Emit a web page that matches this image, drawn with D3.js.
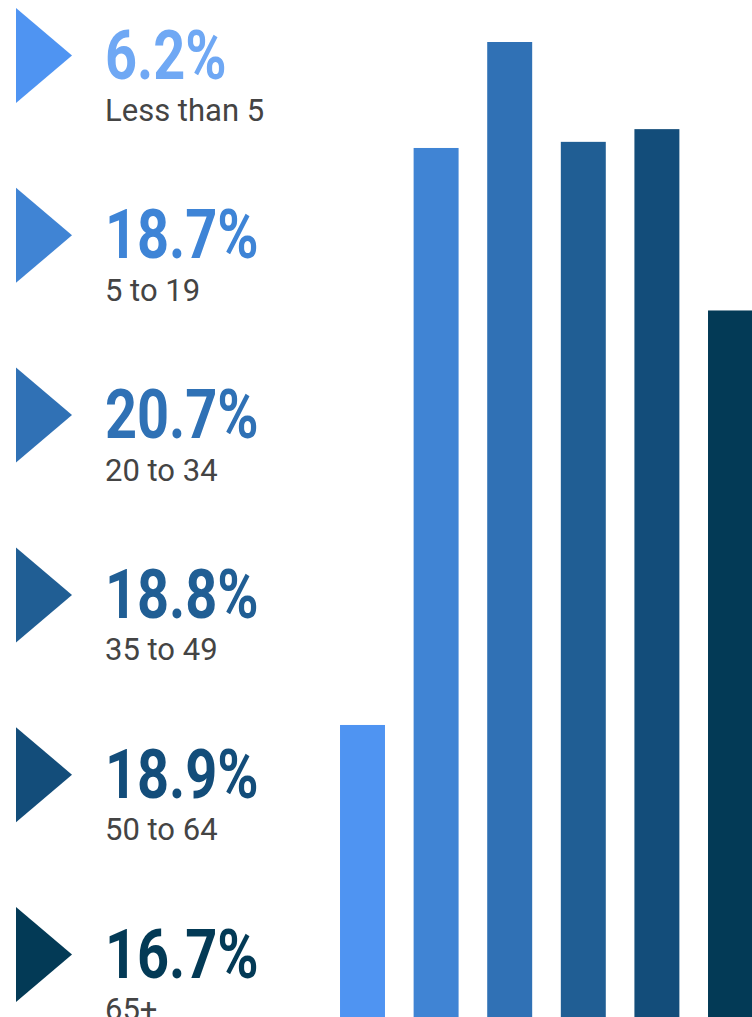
<!DOCTYPE html>
<html>
<head>
<meta charset="utf-8">
<script src="https://cdn.jsdelivr.net/npm/d3@7"></script>
<style>
    html, body { margin: 0; padding: 0; background: #fff; }
    svg { display: block; }
    .pct { font-family: Roboto, "Noto Sans", sans-serif; font-weight: 700; }
    .age { font-family: Roboto, "Noto Sans", sans-serif; font-weight: 400; fill: #444; }
</style>
</head>
<body>
<div id="chart"></div>
<script>
// age groups and their shares (labels on the left)
const ageGroups = ["Less than 5", "5 to 19", "20 to 34", "35 to 49", "50 to 64", "65+"];
const shareLabels = ["6.2%", "18.7%", "20.7%", "18.8%", "18.9%", "16.7%"];
// bar heights
const barValues = [6.2, 18.45, 20.7, 18.58, 18.85, 15.0];
// palette, light to dark
const markColors = ["#4f94f2", "#4084d4", "#3071b5", "#205e94", "#134d7a", "#033a56"];
const textColors = ["#6fa8f4", "#3e84d6", "#2f71b5", "#205e94", "#134d7a", "#033a56"];

const width = 752;
const height = 1017;

const svg = d3.select("#chart")
    .append("svg")
    .attr("width", width)
    .attr("height", height);

// Left side: one row per age group
const rowScale = d3.scalePoint()
    .domain(ageGroups)
    .range([55.5, 954.5]);

const rows = svg.append("g")
    .selectAll("g")
    .data(ageGroups)
    .join("g")
    .attr("transform", d => `translate(0, ${rowScale(d)})`);

rows.append("path")
    .attr("d", "M16,-47.5L72,0L16,47.5Z")
    .attr("fill", (d, i) => markColors[i]);

rows.append("text")
    .attr("class", "pct")
    .attr("transform", "translate(105, 23) scale(0.81, 1)")
    .attr("font-size", 69)
    .attr("fill", (d, i) => textColors[i])
    .text((d, i) => shareLabels[i]);

rows.append("text")
    .attr("class", "age")
    .attr("x", 105)
    .attr("y", 65.5)
    .attr("font-size", 31)
    .text(d => d);

// Right side: bars
const xScale = d3.scaleBand()
    .domain(ageGroups)
    .range([325.7, 767.3])
    .paddingInner(0.389)
    .paddingOuter(0.1945);

const yScale = d3.scaleLinear()
    .domain([0, 20.7])
    .range([height, 42]);

svg.append("g")
    .selectAll("rect")
    .data(ageGroups)
    .join("rect")
    .attr("x", d => xScale(d))
    .attr("width", xScale.bandwidth())
    .attr("y", (d, i) => yScale(barValues[i]))
    .attr("height", (d, i) => yScale(0) - yScale(barValues[i]))
    .attr("fill", (d, i) => markColors[i]);
</script>
</body>
</html>
